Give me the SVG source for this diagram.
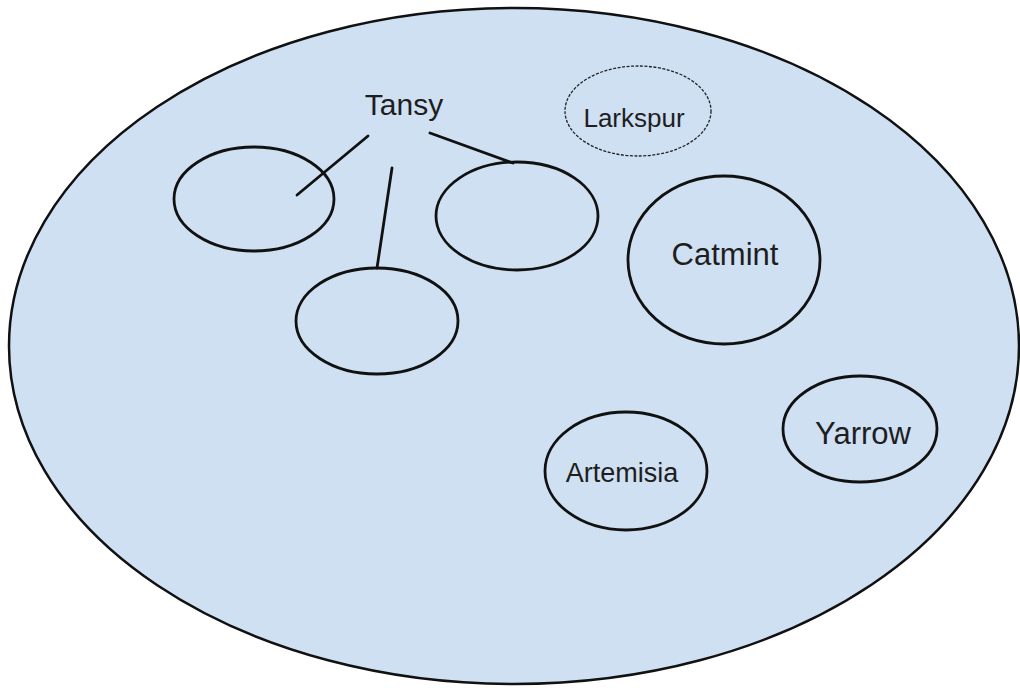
<svg xmlns="http://www.w3.org/2000/svg" width="1020" height="690" viewBox="0 0 1020 690">
<style>
.node{fill:none;stroke:#111;stroke-width:2.8}
.lbl{font-family:"Liberation Sans",Arial,sans-serif;fill:#1e1e1e;text-anchor:middle}
.conn{stroke:#111;stroke-width:2.8;fill:none;stroke-linecap:round}
</style>
<rect width="1020" height="690" fill="#ffffff"/>
<g id="garden">
<ellipse cx="514" cy="346" rx="505" ry="338" fill="#cfe0f3" stroke="#111" stroke-width="2.5"/>
</g>
<g id="tansy">
<text class="lbl" x="404" y="115" font-size="30">Tansy</text>
</g>
<g id="tansy-a">
<ellipse class="node" cx="254" cy="199" rx="80" ry="52"/>
</g>
<g id="tansy-b">
<ellipse class="node" cx="377" cy="321" rx="81" ry="53"/>
</g>
<g id="tansy-c">
<ellipse class="node" cx="517" cy="216" rx="81" ry="54"/>
</g>
<g id="larkspur">
<ellipse cx="638" cy="111" rx="73" ry="45" fill="none" stroke="#222" stroke-width="1.3" stroke-dasharray="3,1.5"/>
<text class="lbl" x="634" y="127" font-size="26">Larkspur</text>
</g>
<g id="catmint">
<ellipse class="node" cx="724" cy="260" rx="96" ry="84"/>
<text class="lbl" x="725" y="265" font-size="31">Catmint</text>
</g>
<g id="artemisia">
<ellipse class="node" cx="626" cy="471" rx="81" ry="59"/>
<text class="lbl" x="622" y="482" font-size="27">Artemisia</text>
</g>
<g id="yarrow">
<ellipse class="node" cx="860" cy="429" rx="77" ry="53"/>
<text class="lbl" x="863" y="444" font-size="31">Yarrow</text>
</g>
<g id="connectors">
<line class="conn" x1="368" y1="136" x2="297" y2="195"/>
<line class="conn" x1="392" y1="168" x2="377" y2="268"/>
<line class="conn" x1="430" y1="133" x2="513" y2="163"/>
</g>
</svg>
